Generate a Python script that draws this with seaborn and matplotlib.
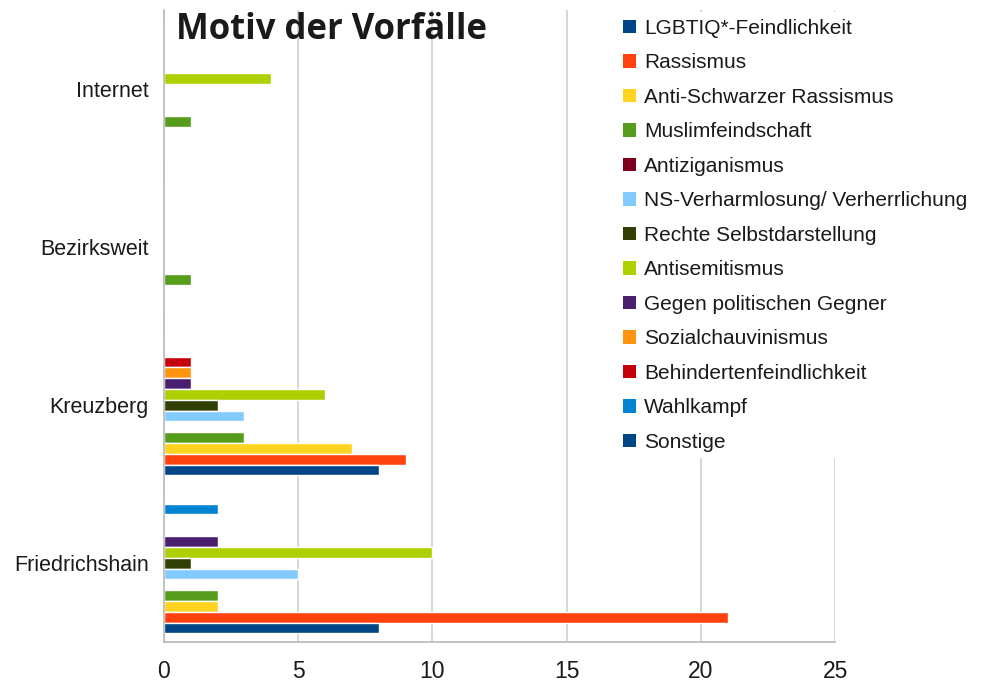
import matplotlib
matplotlib.use("Agg")
import matplotlib.pyplot as plt
import matplotlib.patches as mpatches
from matplotlib.ticker import FixedLocator
import seaborn as sns
import pandas as pd

# Daten
bezirke = ["Internet", "Bezirksweit", "Kreuzberg", "Friedrichshain"]
motive = [
    "LGBTIQ*-Feindlichkeit", "Rassismus", "Anti-Schwarzer Rassismus",
    "Muslimfeindschaft", "Antiziganismus", "NS-Verharmlosung/ Verherrlichung",
    "Rechte Selbstdarstellung", "Antisemitismus", "Gegen politischen Gegner",
    "Sozialchauvinismus", "Behindertenfeindlichkeit", "Wahlkampf", "Sonstige",
]
farben = [
    "#004586", "#ff420e", "#ffd320", "#579d1c", "#7e0021", "#83caff",
    "#314004", "#aecf00", "#4b1f6f", "#ff950e", "#c5000b", "#0084d1", "#004586",
]
werte_internet = [0, 0, 0, 1, 0, 0, 0, 4, 0, 0, 0, 0, 0]
werte_bezirksweit = [0, 0, 0, 1, 0, 0, 0, 0, 0, 0, 0, 0, 0]
werte_kreuzberg = [8, 9, 7, 3, 0, 3, 2, 6, 1, 1, 1, 0, 0]
werte_friedrichshain = [8, 21, 2, 2, 0, 5, 1, 10, 2, 0, 0, 2, 0]
x_ticks = [0, 5, 10, 15, 20, 25]

werte = {
    "Internet": werte_internet,
    "Bezirksweit": werte_bezirksweit,
    "Kreuzberg": werte_kreuzberg,
    "Friedrichshain": werte_friedrichshain,
}
rows = []
for b in bezirke:
    for m, v in zip(motive, werte[b]):
        rows.append({"Bezirk": b, "Motiv": m, "Anzahl": v})
df = pd.DataFrame(rows)

sns.set_style("white")
plt.rcParams["font.family"] = ["Liberation Sans", "DejaVu Sans"]
plt.rcParams["text.color"] = "#1a1a1a"
plt.rcParams["xtick.color"] = "#1a1a1a"
plt.rcParams["ytick.color"] = "#1a1a1a"

fig = plt.figure(figsize=(9.99, 6.86), dpi=100)
ax = fig.add_axes([0.164, 0.064, 0.672, 0.921])

# erstes Motiv soll unten in jeder Gruppe liegen
sns.barplot(data=df, x="Anzahl", y="Bezirk", hue="Motiv", order=bezirke,
            hue_order=motive[::-1], palette=dict(zip(motive, farben)),
            orient="h", width=0.89, gap=0, ax=ax, legend=False,
            errorbar=None, saturation=1)

ax.set_xlim(0, 25)
ax.set_ylim(3.5, -0.5)
ax.set_xticks(x_ticks)
ax.set_xlabel("")
ax.set_ylabel("")
ax.grid(axis="x", color="#d0d0d0", linewidth=1.2)
ax.set_axisbelow(True)

for s in ["top", "right"]:
    ax.spines[s].set_visible(False)
for s in ["left", "bottom"]:
    ax.spines[s].set_color("#b8b8b8")
    ax.spines[s].set_linewidth(1.2)

ax.yaxis.set_minor_locator(FixedLocator([-0.5, 0.5, 1.5, 2.5, 3.5]))
ax.tick_params(axis="y", which="major", length=0, labelsize=15.5, pad=11)
ax.tick_params(axis="y", which="minor", length=8, color="#b8b8b8", width=1.2)
ax.tick_params(axis="x", length=8, color="#b8b8b8", width=1.2, labelsize=16.5, pad=5)

handles = [mpatches.Patch(facecolor=c, edgecolor="none") for c in farben]
leg = fig.legend(handles, motive, loc="upper left", bbox_to_anchor=(0.607, 0.997),
                 frameon=True, fontsize=15, handlelength=0.62, handleheight=0.62,
                 handletextpad=0.4, labelspacing=0.745, borderpad=0.3)
leg.get_frame().set_facecolor("white")
leg.get_frame().set_edgecolor("none")
leg.get_frame().set_alpha(1)

fig.text(0.176, 0.956, "Motiv der Vorfälle", fontsize=25, fontweight="bold",
         family=["Open Sans", "DejaVu Sans"], va="center", ha="left")

fig.savefig("out.png", dpi=100)
